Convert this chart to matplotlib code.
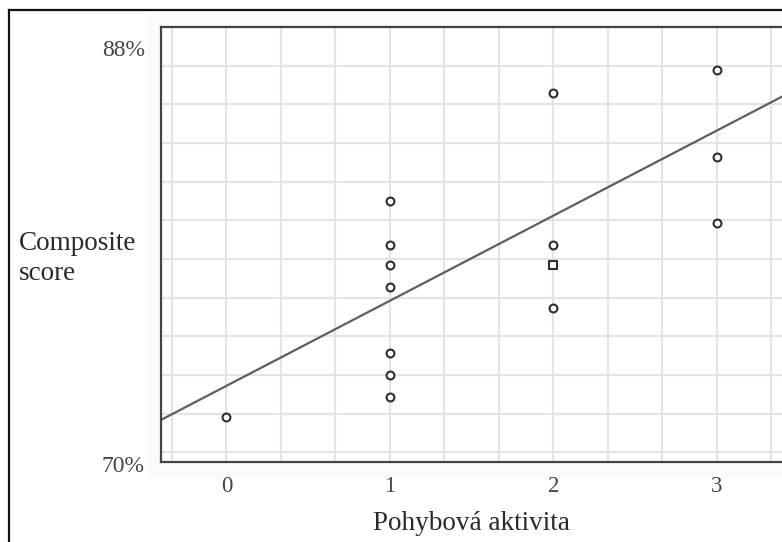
"""Scatter of composite score vs. physical activity level, with a fitted trend line."""
import numpy as np
import matplotlib
matplotlib.use("Agg")
import matplotlib.pyplot as plt
from matplotlib.patches import Rectangle
from matplotlib.lines import Line2D

# values
activity = [0, 1, 1, 1, 1, 1, 1, 1, 2, 2, 2, 3, 3, 3]
score = [71.86, 80.81, 78.98, 78.15, 77.25, 74.51, 73.60, 72.69,
         85.27, 78.98, 76.37, 86.22, 82.62, 79.89]
# overlapping pair drawn as a square in the original
dup_activity = [2]
dup_score = [78.15]
# trend line as drawn: intercept at 0 and slope per activity step
trend_intercept = 73.15
trend_slope = 3.52

x_ticks = [0, 1, 2, 3]
x_tick_labels = ["0", "1", "2", "3"]
y_min, y_max = 70, 88
y_labels = ["88%", "70%"]

SERIF = "Liberation Serif"
W, H = 782, 542
fig = plt.figure(figsize=(W / 100, H / 100), dpi=100)

# faint panel behind the chart and outer frame
fig.patches.append(Rectangle((147 / W, 1 - 478 / H), (W - 147) / W, (478 - 12) / H,
                             transform=fig.transFigure, facecolor="#fafafa",
                             edgecolor="none", zorder=-5))
fig.lines.append(Line2D([9 / W, 9 / W], [0, 1 - 10 / H], transform=fig.transFigure,
                        color="#111111", lw=1.6))
fig.lines.append(Line2D([9 / W, 1], [1 - 10 / H, 1 - 10 / H], transform=fig.transFigure,
                        color="#111111", lw=1.6))

left, right, top, bottom = 161, 782, 27, 462
ax = fig.add_axes([left / W, 1 - bottom / H, (right - left) / W, (bottom - top) / H])
ax.set_facecolor("white")
ax.set_xlim(-0.4, 3.4)
ax.set_ylim(y_min, y_max)

for gx in np.arange(-1, 12) / 3:
    if -0.4 < gx < 3.4:
        ax.axvline(gx, color="#e4e4e4", lw=1.5, zorder=0)
for gy in np.arange(44, 56) * 1.6:
    ax.axhline(gy, color="#e4e4e4", lw=1.5, zorder=0)

xs = np.array(ax.get_xlim())
ax.plot(xs, trend_intercept + trend_slope * xs, color="#5e5e5e", lw=1.6, zorder=2)

ax.scatter(activity, score, s=32, marker="o", facecolors="white",
           edgecolors="#2e2e2e", linewidths=1.5, zorder=3)
ax.scatter(dup_activity, dup_score, s=26, marker="s", facecolors="white",
           edgecolors="#2e2e2e", linewidths=1.5, zorder=3)

for side in ["top", "left", "bottom"]:
    ax.spines[side].set_color("#444444")
    ax.spines[side].set_linewidth(1.6)
ax.spines["right"].set_visible(False)

ax.set_xticks(x_ticks)
ax.set_xticklabels(x_tick_labels, fontfamily=SERIF, fontsize=16.5, color="#444444")
ax.tick_params(axis="x", length=0, pad=10)
ax.set_yticks([])

ax.text(-0.026, (bottom - 50) / (bottom - top), y_labels[0], transform=ax.transAxes,
        ha="right", va="center", fontfamily=SERIF, fontsize=17, color="#444444")
ax.text(-0.026, (bottom - 467) / (bottom - top), y_labels[1], transform=ax.transAxes,
        ha="right", va="center", fontfamily=SERIF, fontsize=17, color="#444444")

ax.set_xlabel("Pohybová aktivita", fontfamily=SERIF, fontsize=19.5,
              color="#2a2a2a", labelpad=10)
fig.text(19 / W, 1 - 243 / H, "Composite", ha="left", va="center",
         fontfamily=SERIF, fontsize=19.5, color="#2a2a2a")
fig.text(19 / W, 1 - 274 / H, "score", ha="left", va="center",
         fontfamily=SERIF, fontsize=19.5, color="#2a2a2a")

fig.savefig("out.png", dpi=100)
